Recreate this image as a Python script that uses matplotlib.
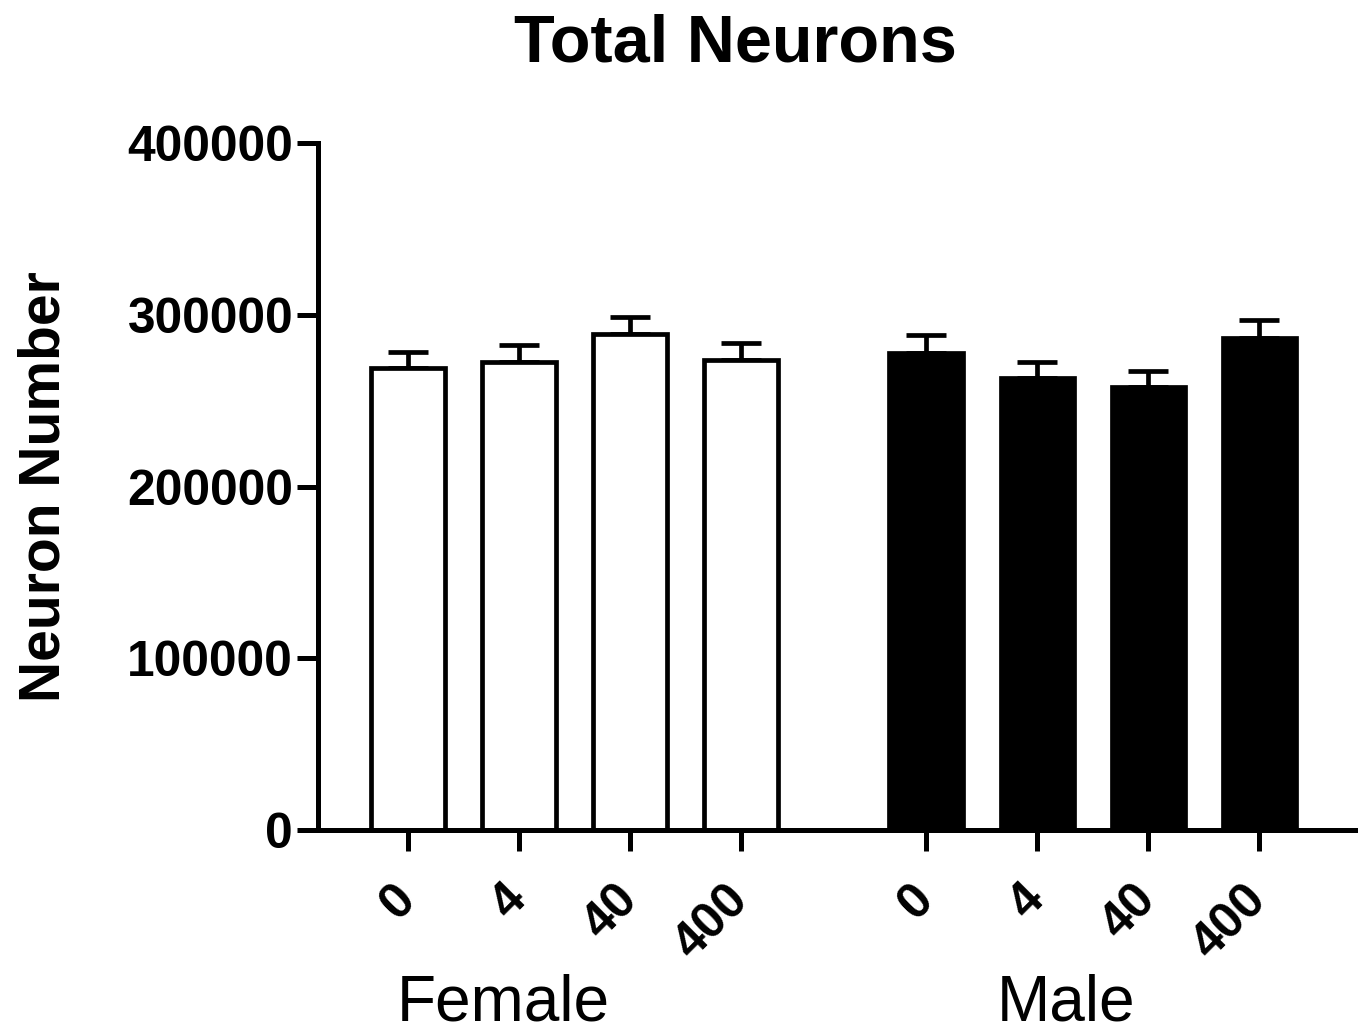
import matplotlib.pyplot as plt
import numpy as np

plt.rcParams['font.family'] = ['Liberation Sans', 'DejaVu Sans']

doses = ['0', '4', '40', '400']
female_means = [269000, 272500, 289000, 273500]
female_sem = [9500, 10000, 10000, 9800]
male_means = [278000, 263000, 258000, 286500]
male_sem = [10500, 9500, 9500, 10500]
groups = ['Female', 'Male']

fig = plt.figure(figsize=(13.61, 10.32), dpi=100)
ax = fig.add_axes([0.2337, 0.1957, 0.7619, 0.6657])

f_pos = np.arange(4)
m_pos = np.arange(4) + 4.667

# female bars: white with black edge
ax.bar(f_pos, female_means, width=0.66, color='white', edgecolor='black',
       linewidth=3.4, zorder=2)
ax.errorbar(f_pos, female_means, yerr=[np.zeros(4), female_sem], fmt='none',
            ecolor='black', elinewidth=3.4, capsize=14.5, capthick=3.4, zorder=1)
# male bars: filled black
ax.bar(m_pos, male_means, width=0.66, color='black', edgecolor='black',
       linewidth=3.4, zorder=2)
ax.errorbar(m_pos, male_means, yerr=[np.zeros(4), male_sem], fmt='none',
            ecolor='black', elinewidth=3.4, capsize=14.5, capthick=3.4, zorder=1)

ax.set_xlim(-0.81, 8.53)
ax.set_ylim(0, 400000)
ax.set_yticks([0, 100000, 200000, 300000, 400000])
ax.set_yticklabels(['0', '100000', '200000', '300000', '400000'],
                   fontsize=35.8, fontweight='bold')

ax.set_xticks(np.concatenate([f_pos, m_pos]))
ax.set_xticklabels(doses + doses, rotation=45, ha='right', va='center',
                   rotation_mode='anchor', fontsize=36, fontweight='bold')

for s in ['top', 'right']:
    ax.spines[s].set_visible(False)
for s in ['left', 'bottom']:
    ax.spines[s].set_linewidth(3.6)

ax.tick_params(axis='y', length=15, width=3.6, pad=3)
ax.tick_params(axis='x', length=15, width=3.6, pad=30)

ax.set_ylabel('Neuron Number', fontsize=41, fontweight='bold')
ax.yaxis.set_label_coords(-0.238, 0.5)

fig.text(0.54, 0.94, 'Total Neurons', ha='center', va='baseline',
         fontsize=48, fontweight='bold')

trans = ax.get_xaxis_transform()
ax.text(0.856, -0.2766, groups[0], transform=trans, ha='center', va='baseline', fontsize=46)
ax.text(5.93, -0.2766, groups[1], transform=trans, ha='center', va='baseline', fontsize=46)

fig.savefig('out.png', dpi=100)
